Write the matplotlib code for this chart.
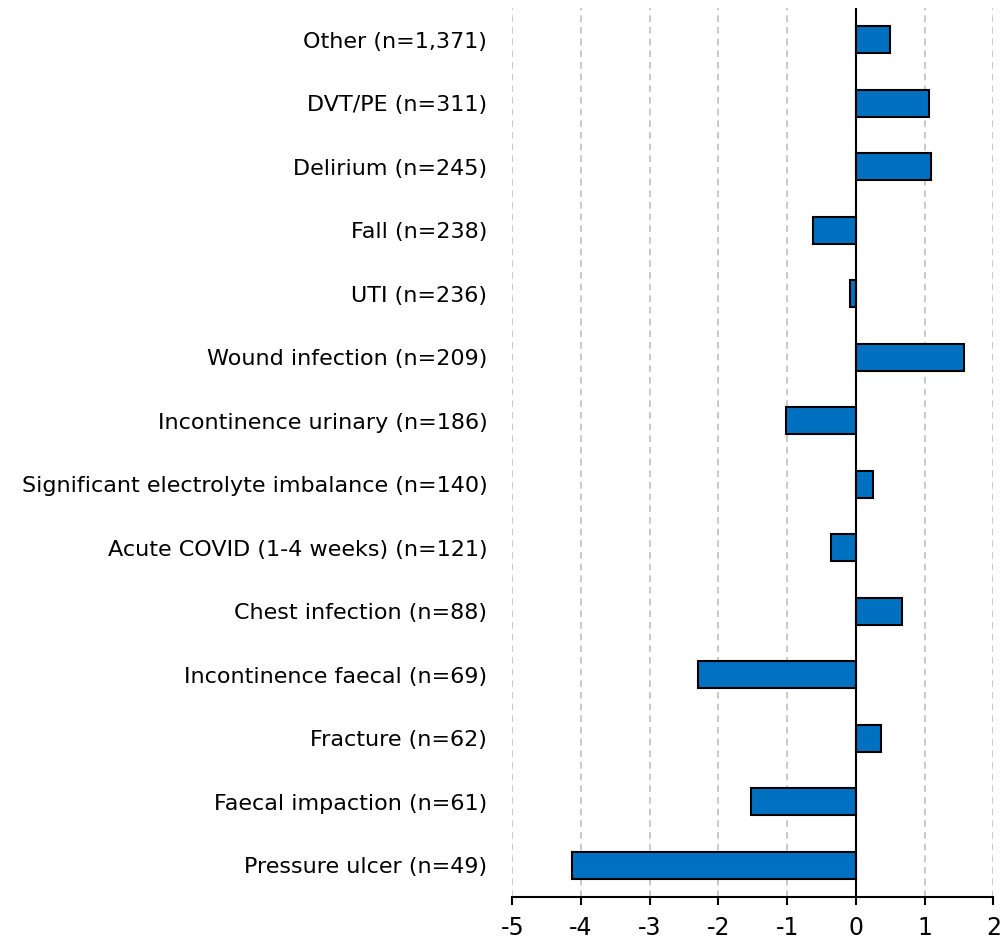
import matplotlib.pyplot as plt
import numpy as np

plt.rcParams['font.family'] = ['DejaVu Sans']

categories = [
    'Other (n=1,371)',
    'DVT/PE (n=311)',
    'Delirium (n=245)',
    'Fall (n=238)',
    'UTI (n=236)',
    'Wound infection (n=209)',
    'Incontinence urinary (n=186)',
    'Significant electrolyte imbalance (n=140)',
    'Acute COVID (1-4 weeks) (n=121)',
    'Chest infection (n=88)',
    'Incontinence faecal (n=69)',
    'Fracture (n=62)',
    'Faecal impaction (n=61)',
    'Pressure ulcer (n=49)',
]
values = [0.50, 1.07, 1.09, -0.62, -0.09, 1.57, -1.01, 0.25, -0.36, 0.67,
          -2.30, 0.36, -1.52, -4.13]
xticks = [-5, -4, -3, -2, -1, 0, 1, 2]

fig = plt.figure(figsize=(10.08, 9.44), dpi=100)
ax = fig.add_axes([0.5082, 0.0498, 0.4772, 0.9417])

y = np.arange(len(categories))
ax.barh(y, values, height=0.42, color='#0070C0', edgecolor='black',
        linewidth=1.5, zorder=3)
ax.axvline(0, color='black', linewidth=1.5, zorder=4)

ax.set_xlim(-5, 2)
ax.set_ylim(len(categories) - 0.5, -0.5)
ax.set_xticks(xticks)
ax.set_xticklabels([str(t) for t in xticks])
ax.set_yticks(y)
ax.set_yticklabels(categories)

ax.xaxis.grid(True, linestyle=(0, (4, 3)), color='#c0c0c0', linewidth=1.2,
              zorder=0)
for side in ('top', 'right', 'left'):
    ax.spines[side].set_visible(False)
ax.spines['bottom'].set_linewidth(1.5)

ax.tick_params(axis='x', length=6, width=1.5, labelsize=17, pad=8)
ax.tick_params(axis='y', length=0, labelsize=16, pad=18)

fig.savefig('out.png', dpi=100)
